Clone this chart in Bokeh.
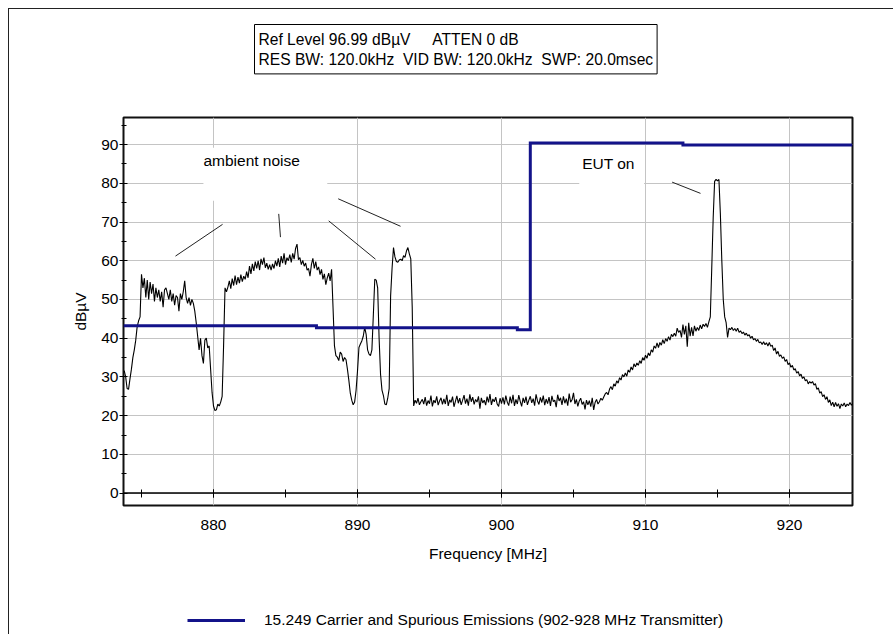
from bokeh.plotting import figure
from bokeh.layouts import column
from bokeh.models import (Range1d, SingleIntervalTicker, Span, Label, Legend,
                          LegendItem, BoxAnnotation)
from bokeh.embed import file_html
from bokeh.resources import INLINE

FONT = "Liberation Sans"
FS = "15.5px"

# ---- axes ----
X_RANGE = (873.75, 924.375)
Y_RANGE = (-3.2, 96.99)
X_TICK_INTERVAL = 10
Y_TICK_INTERVAL = 10
TRACE_STEP = 0.1

# ---- measured trace (dBuV), one value every 0.1 MHz, in segments ----
TRACE_A_START = 873.8
TRACE_A = [
    31.6, 30.0,
    27.0, 26.8, 29.5, 32.0, 35.0, 37.0, 39.5, 43.0, 44.5, 45.5,   # 874
    56.5, 53.0, 55.5, 50.5, 55.0, 50.0, 54.5, 51.5, 54.0, 49.5,   # 875
    53.0, 50.5, 52.5, 49.5, 52.0, 48.0, 52.5, 53.0, 51.5, 50.0,   # 876
    52.5, 49.5, 51.5, 48.5, 51.0, 50.5, 47.0, 51.5, 50.0, 52.0,   # 877
    54.8, 50.5, 49.0, 50.5, 48.5, 50.0, 49.0, 47.0, 44.0, 40.5,   # 878
    37.0, 40.0, 35.5, 33.5, 39.5, 40.0, 37.5, 38.0, 32.0, 26.0,   # 879
    22.5, 21.3, 21.5, 23.0, 22.5, 23.5, 25.0, 38.0, 53.0, 52.0,   # 880
    53.2, 54.8, 52.8, 55.4, 53.6, 56.2, 53.8, 55.8, 54.2, 56.4,   # 881
    54.6, 56.0, 55.2, 57.2, 55.6, 58.6, 56.6, 59.2, 57.4, 59.8,   # 882
    58.0, 60.0, 57.6, 60.5, 59.0, 60.8, 58.2, 59.4, 57.8, 59.0,   # 883
]
TRACE_B_START = 884.0
TRACE_B = [
    57.6, 59.2, 58.0, 60.0, 58.6, 60.6, 58.4, 61.2, 59.4, 61.9,   # 884
    59.0, 60.8, 60.0, 61.6, 59.6, 61.9, 60.4, 63.2, 64.3, 60.3,   # 885
    60.8, 59.0, 60.1, 58.6, 59.4, 57.6, 58.0, 56.0, 59.0, 60.6,   # 886
    58.0, 59.8, 57.6, 58.4, 56.4, 57.8, 55.2, 56.6, 53.8, 55.6,   # 887
    56.8, 54.8, 57.8, 48.0, 38.0, 35.5, 35.1, 34.2, 36.4, 35.9,   # 888
    34.0, 35.0, 34.5, 32.0, 29.1, 25.8, 24.0, 22.8, 23.5, 26.5,   # 889
    31.5, 37.6, 38.5, 39.3, 40.5, 42.8, 41.0, 37.0, 35.9, 35.5,   # 890
    37.0, 46.0, 55.2, 55.0, 53.0, 40.0, 30.7, 26.6, 25.2, 23.0,   # 891
    22.8, 24.5, 27.0, 51.0, 58.0, 63.4, 61.0, 59.8, 59.6, 60.2,   # 892
    60.4, 60.0, 61.3, 60.9, 62.5, 63.4, 61.8, 60.5, 48.0, 22.5,   # 893
]
TRACE_C_START = 894.0
TRACE_C = [
    24.0, 23.2, 24.5, 22.8, 23.6, 24.2, 23.0, 24.8, 22.6, 23.9,   # 894
    23.1, 25.2, 22.4, 24.0, 23.3, 25.0, 22.7, 23.8, 24.6, 22.9,   # 895
    24.3, 23.0, 25.4, 22.5, 24.1, 23.4, 24.9, 22.3, 23.7, 25.1,   # 896
    23.2, 24.5, 22.8, 24.0, 25.3, 23.1, 24.4, 22.6, 25.5, 23.6,   # 897
    24.8, 22.9, 24.2, 23.5, 25.0, 21.8, 24.6, 23.3, 24.0, 22.7,   # 898
    24.9, 23.4, 25.6, 22.8, 24.3, 23.6, 24.8, 23.0, 22.4, 24.5,   # 899
    23.1, 24.7, 22.9, 25.2, 23.5, 22.6, 24.9, 23.2, 25.4, 22.5,   # 900
    24.2, 23.0, 25.3, 23.7, 22.4, 24.6, 23.3, 24.9, 22.8, 24.0,   # 901
    25.0, 23.3, 24.4, 22.6, 25.5, 23.8, 22.9, 24.7, 23.4, 25.2,   # 902
    22.7, 24.3, 23.1, 24.8, 22.5, 25.1, 23.6, 24.0, 22.2, 25.4,   # 903
    23.8, 24.6, 22.8, 25.0, 23.2, 24.4, 22.6, 25.7, 23.5, 24.1,   # 904
    25.9, 23.0, 24.2, 22.4, 23.8, 24.5, 22.9, 23.6, 21.6, 24.0,   # 905
    22.8, 23.9, 22.3, 24.6, 21.5, 23.4, 24.2, 23.0, 23.6, 24.5,   # 906
]
TRACE_D_START = 907.0
TRACE_D = [
    24.0, 24.8, 25.6, 26.0, 25.4, 26.8, 27.5, 26.7, 28.2, 27.6,   # 907
    29.0, 28.4, 29.8, 29.2, 30.6, 30.0, 31.0, 30.2, 31.8, 31.2,   # 908
    32.6, 31.8, 33.4, 32.6, 33.6, 33.0, 34.2, 33.5, 35.0, 34.3,   # 909
    35.6, 34.8, 36.2, 35.5, 37.0, 36.4, 38.0, 37.4, 38.8, 37.6,   # 910
    38.9, 38.2, 39.6, 38.6, 39.9, 39.2, 40.4, 39.5, 41.0, 40.4,   # 911
    41.3, 40.5, 42.6, 41.5, 42.0, 40.2, 43.5, 41.0, 43.2, 37.8,   # 912
    44.0, 40.5, 42.8, 40.6, 43.2, 41.8, 42.8, 42.0, 43.4, 42.4,   # 913
    43.6, 43.0, 43.8, 42.8, 44.2, 45.5, 58.0, 71.0, 80.5, 81.0,   # 914
]
TRACE_E_START = 915.0
TRACE_E = [
    80.6, 81.0, 72.0, 60.0, 50.0, 45.5, 44.0, 40.2, 42.6, 42.2,   # 915
    42.8, 42.0, 42.5, 41.8, 42.6, 41.5, 41.9, 41.2, 41.6, 40.8,   # 916
    41.3, 40.6, 40.9, 40.0, 40.5, 39.6, 39.9, 39.2, 39.7, 38.8,   # 917
    39.0, 38.4, 39.1, 38.3, 38.8, 38.0, 38.9, 37.9, 38.2, 36.8,   # 918
    37.5, 35.9, 36.6, 35.3, 35.7, 34.8, 35.2, 34.0, 34.5, 33.2,   # 919
    33.6, 32.5, 33.0, 31.8, 32.1, 31.0, 31.4, 30.3, 30.7, 29.6,   # 920
    30.0, 29.0, 29.3, 28.2, 28.8, 28.4, 28.8, 27.9, 28.3, 26.8,   # 921
    27.2, 25.8, 26.2, 24.9, 25.4, 24.2, 24.9, 23.4, 24.1, 22.6,   # 922
    23.5, 22.3, 23.4, 22.4, 23.1, 21.8, 23.0, 22.5, 23.3, 22.3,   # 923
    23.0, 22.6, 23.4, 22.7, 23.2,                                 # 924
]

# ---- limit line: 15.249 carrier and spurious emissions ----
LIMIT_FREQ = [873.75, 887.15, 887.15, 901.1, 901.1, 902.0, 902.0, 912.6, 912.6, 924.375]
LIMIT_LEVEL = [43.2, 43.2, 42.7, 42.7, 42.2, 42.2, 90.4, 90.4, 89.9, 89.9]
LIMIT_LABEL = "15.249 Carrier and Spurious Emissions (902-928 MHz Transmitter)"

# ---- texts ----
X_LABEL = "Frequency [MHz]"
Y_LABEL = "dBµV"
INFO_TEXT = ("Ref Level 96.99 dBµV\u00a0\u00a0\u00a0\u00a0\u00a0ATTEN 0 dB\n"
             "RES BW: 120.0kHz\u00a0\u00a0VID BW: 120.0kHz\u00a0\u00a0SWP: 20.0msec")
NOTE_TEXT = ["ambient noise", "EUT on"]
NOTE_X = [879.3, 905.6]
NOTE_Y = [85.8, 85.0]
NOTE_BOX_LEFT = [879.3, 905.4]
NOTE_BOX_RIGHT = [887.9, 909.9]
NOTE_BOX_BOTTOM = [75.5, 77.0]
NOTE_BOX_TOP = [89.2, 88.6]
POINTER_X0 = [877.36, 884.53, 888.0, 888.66, 911.85]
POINTER_Y0 = [61.2, 72.1, 70.3, 76.0, 80.3]
POINTER_X1 = [880.63, 884.65, 891.25, 892.99, 913.82]
POINTER_Y1 = [69.4, 66.1, 60.4, 68.9, 77.4]

LIMIT_COLOR = "#13138a"
W = 884


def seg_freqs(start, vals):
    return [round(start + TRACE_STEP * i, 3) for i in range(len(vals))]


trace_x, trace_y = [], []
for st, vals in [(TRACE_A_START, TRACE_A), (TRACE_B_START, TRACE_B),
                 (TRACE_C_START, TRACE_C), (TRACE_D_START, TRACE_D),
                 (TRACE_E_START, TRACE_E)]:
    trace_x += seg_freqs(st, vals)
    trace_y += vals

# ================= header strip with the analyser settings =================
hf = figure(width=W, height=106, x_range=Range1d(0, 1), y_range=Range1d(0, 1),
            x_axis_type=None, y_axis_type=None, output_backend="svg",
            toolbar_location=None, min_border=0, outline_line_color=None,
            background_fill_color="white", border_fill_color="white")
hf.add_layout(Label(x=131, y=91, x_units="screen", y_units="screen", text=INFO_TEXT,
                    text_align="left", text_baseline="top", padding=(4, 6),
                    text_font=FONT, text_font_size="15.6px", text_color="black",
                    background_fill_color="white", border_line_color="black",
                    border_line_width=1))

# ================= main chart =================
p = figure(width=W, height=474,
           x_range=Range1d(*X_RANGE), y_range=Range1d(*Y_RANGE),
           output_backend="svg", toolbar_location=None,
           min_border_left=114, min_border_right=41,
           min_border_top=2, min_border_bottom=84,
           background_fill_color="white", border_fill_color="white",
           outline_line_color="#111111", outline_line_width=2)

xa = p.xaxis[0]
ya = p.yaxis[0]
xt = SingleIntervalTicker(interval=X_TICK_INTERVAL, num_minor_ticks=2)
yt = SingleIntervalTicker(interval=Y_TICK_INTERVAL, num_minor_ticks=2)
xa.ticker = xt
ya.ticker = yt
p.xgrid.ticker = xt
p.ygrid.ticker = yt
for g in (p.xgrid, p.ygrid):
    g.grid_line_color = "#c4c4c4"
    g.grid_line_width = 1

for ax in (xa, ya):
    ax.axis_line_color = None
    ax.major_tick_line_color = "black"
    ax.minor_tick_line_color = "black"
    ax.major_label_text_font = FONT
    ax.major_label_text_font_size = FS
    ax.major_label_text_color = "black"
    ax.axis_label_text_font = FONT
    ax.axis_label_text_font_size = FS
    ax.axis_label_text_font_style = "normal"
    ax.axis_label_text_color = "black"

# x ticks sit on the 0 dBuV line, labels below the frame
xa.major_tick_in = 16
xa.major_tick_out = -8
xa.minor_tick_in = 16
xa.minor_tick_out = -8
xa.major_label_standoff = 22
xa.axis_label = X_LABEL
xa.axis_label_standoff = 12

ya.major_tick_in = 4
ya.major_tick_out = 4
ya.minor_tick_in = 3
ya.minor_tick_out = 2
ya.major_label_standoff = 1
ya.axis_label = Y_LABEL
ya.axis_label_standoff = 9

p.add_layout(Span(location=0, dimension="width", line_color="black", line_width=1.5))

for l, r, b, t in zip(NOTE_BOX_LEFT, NOTE_BOX_RIGHT, NOTE_BOX_BOTTOM, NOTE_BOX_TOP):
    p.add_layout(BoxAnnotation(left=l, right=r, bottom=b, top=t, fill_color="white",
                               fill_alpha=1.0, line_alpha=0.0, level="underlay"))

p.line(trace_x, trace_y, line_color="black", line_width=1.1)
p.line(LIMIT_FREQ, LIMIT_LEVEL, line_color=LIMIT_COLOR, line_width=3, line_join="miter")

p.segment(x0=POINTER_X0, y0=POINTER_Y0, x1=POINTER_X1, y1=POINTER_Y1,
          line_color="#222222", line_width=1)

for txt, x, y in zip(NOTE_TEXT, NOTE_X, NOTE_Y):
    p.add_layout(Label(x=x, y=y, text=txt, text_align="left", text_baseline="middle",
                       text_font=FONT, text_font_size=FS, text_color="black"))

# ================= legend strip =================
lf = figure(width=W, height=45, x_range=Range1d(0, 1), y_range=Range1d(0, 1),
            x_axis_type=None, y_axis_type=None, output_backend="svg",
            toolbar_location=None, min_border=0, outline_line_color=None,
            background_fill_color="white", border_fill_color="white")
leg_r = lf.line(LIMIT_FREQ, LIMIT_LEVEL, line_color=LIMIT_COLOR, line_width=3)
legend = Legend(items=[LegendItem(label=LIMIT_LABEL, renderers=[leg_r])],
                location=(64, 4), orientation="horizontal",
                glyph_width=58, glyph_height=20, label_height=20,
                label_standoff=19, padding=0, margin=0, spacing=0,
                border_line_color=None, background_fill_alpha=0.0,
                label_text_font=FONT, label_text_font_size=FS,
                label_text_color="black")
lf.add_layout(legend)

root = column(hf, p, lf, spacing=0,
              styles={"margin-left": "8px", "margin-top": "8px",
                      "border-top": "1px solid #222222",
                      "border-left": "1px solid #222222"})

open("out.html", "w").write(file_html(root, INLINE))
